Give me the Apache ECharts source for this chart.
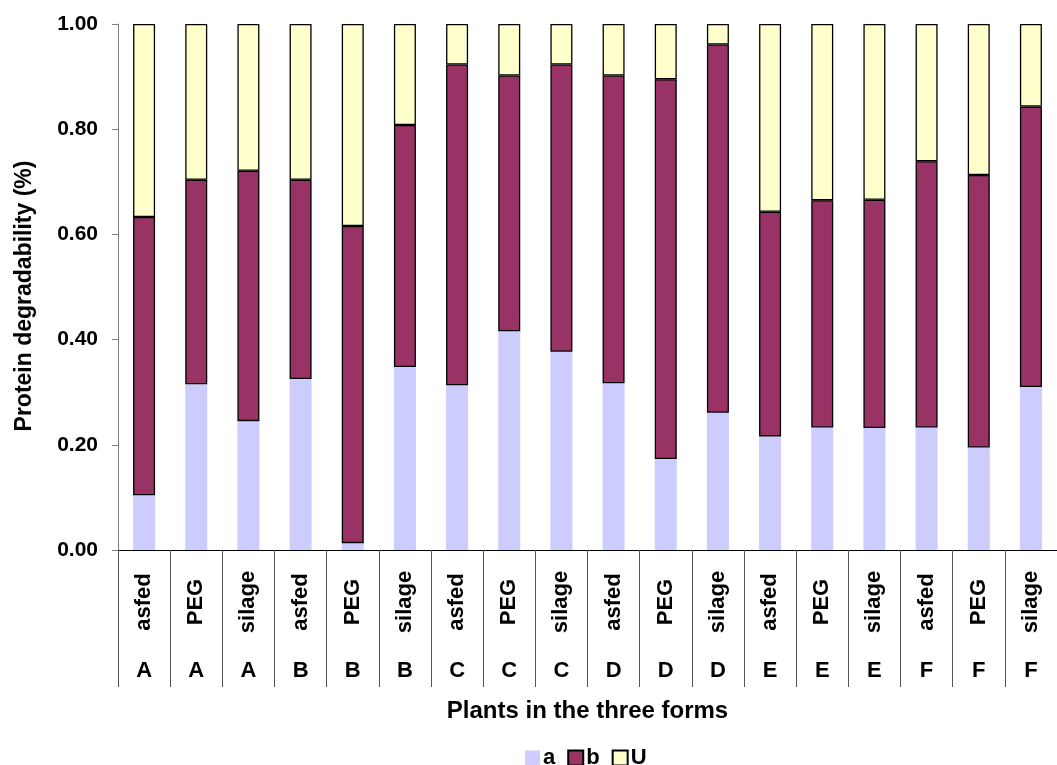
<!DOCTYPE html>
<html lang="en">
<head>
<meta charset="UTF-8">
<title>Protein degradability</title>
<script src="https://cdn.jsdelivr.net/npm/echarts@6.0.0/dist/echarts.min.js"></script>
<style>
    html, body { margin: 0; padding: 0; background: #fff; }
    #container { width: 1057px; height: 765px; }
</style>
</head>
<body>
<div id="container"></div>
<script type="text/javascript">
    // categories: form (rotated row) and plant (letter row)
    var forms = ['asfed', 'PEG', 'silage', 'asfed', 'PEG', 'silage', 'asfed', 'PEG', 'silage',
                 'asfed', 'PEG', 'silage', 'asfed', 'PEG', 'silage', 'asfed', 'PEG', 'silage'];
    var plants = ['A', 'A', 'A', 'B', 'B', 'B', 'C', 'C', 'C', 'D', 'D', 'D', 'E', 'E', 'E', 'F', 'F', 'F'];

    // stacked fractions
    var valuesA = [0.104, 0.315, 0.245, 0.325, 0.013, 0.348, 0.313, 0.416, 0.377,
                   0.317, 0.173, 0.261, 0.216, 0.233, 0.232, 0.233, 0.195, 0.310];
    var valuesB = [0.529, 0.389, 0.476, 0.379, 0.603, 0.460, 0.610, 0.486, 0.546,
                   0.585, 0.722, 0.700, 0.427, 0.432, 0.434, 0.506, 0.518, 0.533];
    var valuesU = [0.367, 0.296, 0.279, 0.296, 0.384, 0.192, 0.077, 0.098, 0.077,
                   0.098, 0.105, 0.039, 0.357, 0.335, 0.334, 0.261, 0.287, 0.157];

    var FONT = '"Liberation Sans", Arial, sans-serif';

    var myChart = echarts.init(document.getElementById('container'), null, { renderer: 'canvas' });
    var option = {
        animation: false,
        textStyle: { fontFamily: FONT, fontWeight: 'bold', color: '#000' },
        grid: {
            left: 118,
            top: 24,
            width: 948,
            height: 526,
            containLabel: false
        },
        legend: {
            left: 525,
            top: 747,
            padding: 0,
            icon: 'rect',
            itemWidth: 15,
            itemHeight: 15,
            itemGap: 12,
            textStyle: { fontFamily: FONT, fontWeight: 'bold', fontSize: 22, color: '#000', padding: [0, 0, 0, -2] },
            data: ['a', 'b', 'U']
        },
        xAxis: [
            {
                type: 'category',
                data: forms,
                position: 'bottom',
                axisLine: { show: true, lineStyle: { color: '#000', width: 1 } },
                axisTick: { show: true, interval: 0, length: 137, lineStyle: { color: '#555' } },
                axisLabel: {
                    interval: 0,
                    rotate: 90,
                    align: 'center',
                    margin: 52,
                    fontSize: 22,
                    fontWeight: 'bold',
                    fontFamily: FONT,
                    color: '#000'
                }
            },
            {
                type: 'category',
                data: plants,
                position: 'bottom',
                axisLine: { show: false },
                axisTick: { show: false },
                axisLabel: {
                    interval: 0,
                    margin: 110,
                    fontSize: 22,
                    fontWeight: 'bold',
                    fontFamily: FONT,
                    color: '#000'
                },
                name: 'Plants in the three forms',
                nameLocation: 'middle',
                nameGap: 149,
                nameTextStyle: { fontSize: 24, fontWeight: 'bold', fontFamily: FONT, color: '#000' }
            }
        ],
        yAxis: {
            type: 'value',
            min: 0,
            max: 1,
            interval: 0.2,
            name: 'Protein degradability (%)',
            nameLocation: 'middle',
            nameRotate: 90,
            nameGap: 82,
            nameTextStyle: { fontSize: 23, fontWeight: 'bold', fontFamily: FONT, color: '#000', padding: [0, 18, 0, 0] },
            axisLine: { show: true, lineStyle: { color: '#808080', width: 1 } },
            axisTick: { show: true, length: 6, lineStyle: { color: '#808080' } },
            splitLine: { show: false },
            axisLabel: {
                margin: 20,
                fontSize: 21,
                fontWeight: 'bold',
                fontFamily: FONT,
                color: '#000',
                formatter: function (v) { return v.toFixed(2); }
            }
        },
        series: [
            {
                name: 'a',
                type: 'bar',
                stack: 'total',
                barWidth: 22,
                itemStyle: { color: '#CCCCFF', borderWidth: 0 },
                data: valuesA
            },
            {
                name: 'b',
                type: 'bar',
                stack: 'total',
                barWidth: 22,
                itemStyle: { color: '#993366', borderColor: '#000', borderWidth: 1.3 },
                data: valuesB
            },
            {
                name: 'U',
                type: 'bar',
                stack: 'total',
                barWidth: 22,
                itemStyle: { color: '#FFFFCC', borderColor: '#000', borderWidth: 1.3 },
                data: valuesU
            }
        ]
    };
    myChart.setOption(option);
    window.addEventListener('resize', myChart.resize);
</script>
</body>
</html>
